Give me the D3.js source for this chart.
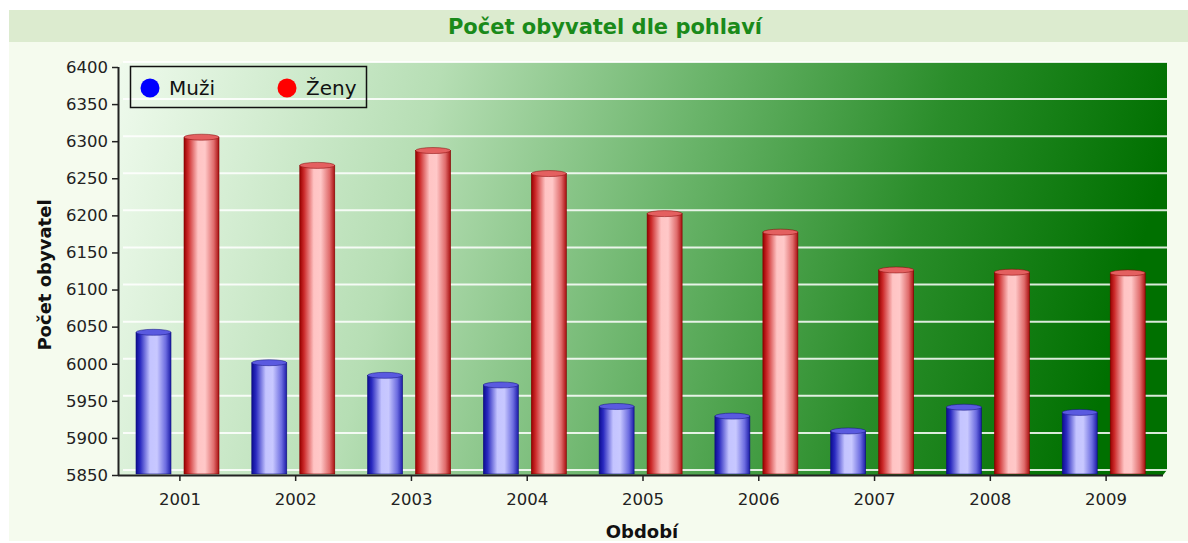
<!DOCTYPE html>
<html><head><meta charset="utf-8">
<script src="https://cdn.jsdelivr.net/npm/d3@7"></script>
<style>body{margin:0;background:#fff}svg{display:block}</style>
</head><body>
<script>
const years = ["2001","2002","2003","2004","2005","2006","2007","2008","2009"];
const seriesNames = ["Muži","Ženy"];
const muzi = [6039, 5998, 5981, 5968, 5939, 5926, 5906, 5938, 5931];
const zeny = [6302, 6264, 6284, 6253, 6199, 6174, 6123, 6120, 6119];
const yTicks = [5850,5900,5950,6000,6050,6100,6150,6200,6250,6300,6350,6400];
const title = "Počet obyvatel dle pohlaví";
const yTitle = "Počet obyvatel";
const xTitle = "Období";

const W = 1188, H = 543;
const FONT = "'DejaVu Sans', Verdana, sans-serif";
const svg = d3.select("body").append("svg").attr("width", W).attr("height", H);
const defs = svg.append("defs");

// panel
svg.append("rect").attr("x",9).attr("y",10).attr("width",W-9).attr("height",531).attr("fill","#f5fbee");
svg.append("rect").attr("x",9).attr("y",10).attr("width",W-9).attr("height",32).attr("fill","#dcebcf");
svg.append("text").attr("x",605).attr("y",34).attr("text-anchor","middle")
  .attr("font-family",FONT).attr("font-weight","bold").attr("font-size",21).attr("fill","#1a8a1a").text(title);

const x0 = 118, yBase = 475, D = 5;
const x = d3.scaleBand().domain(years).range([122, 1164]);
const xs = d3.scaleBand().domain(seriesNames).range([14, 97]).paddingInner(13/48);
const y = d3.scaleLinear().domain([5850, 6400]).range([475, 67]);

// background gradient
const bg = defs.append("linearGradient").attr("id","bg").attr("gradientUnits","userSpaceOnUse")
  .attr("x1",123).attr("y1",62).attr("x2",1120).attr("y2",330);
[[0,"#eefaec"],[0.3,"#b6deb4"],[0.55,"#6ab46a"],[0.78,"#2a8d2a"],[1,"#007000"]].forEach(s=>
  bg.append("stop").attr("offset",s[0]).attr("stop-color",s[1]));
svg.append("path").attr("fill","url(#bg)")
  .attr("d",`M${x0+D},62 H1167 V${yBase-D} L1163,${yBase} H${x0} V67 L${x0+D},62 Z`);

// gridlines
svg.append("g").selectAll("line").data(yTicks).join("line")
  .attr("x1",x0+D).attr("x2",1167).attr("y1",d=>y(d)-D).attr("y2",d=>y(d)-D)
  .attr("stroke","rgba(255,255,255,0.85)").attr("stroke-width",2);

// cylinder gradients
function cyl(id, stops){
  const g = defs.append("linearGradient").attr("id",id).attr("x1",0).attr("x2",1).attr("y1",0).attr("y2",0);
  stops.forEach(s=>g.append("stop").attr("offset",s[0]).attr("stop-color",s[1]));
}
cyl("gb",[[0,"#0c0c90"],[0.12,"#2a2ac0"],[0.4,"#c4c4ff"],[0.6,"#c8c8ff"],[0.85,"#6c6ce0"],[1,"#1c1ca8"]]);
cyl("gr",[[0,"#980000"],[0.12,"#cc2a2a"],[0.4,"#ffc4c4"],[0.6,"#ffc8c8"],[0.85,"#e06c6c"],[1,"#a81010"]]);

const data = [];
years.forEach((yr,i)=>{
  data.push({yr, s:"Muži", v:muzi[i], fill:"url(#gb)", top:"#5a5ae0", stroke:"#10107a"});
  data.push({yr, s:"Ženy", v:zeny[i], fill:"url(#gr)", top:"#e46060", stroke:"#800000"});
});
const bw = xs.bandwidth();
const bars = svg.append("g").selectAll("g").data(data).join("g");
bars.append("rect")
  .attr("x",d=>x(d.yr)+xs(d.s)).attr("width",bw)
  .attr("y",d=>y(d.v)-D/2).attr("height",d=>y(5850)-1-(y(d.v)-D/2))
  .attr("fill",d=>d.fill).attr("stroke",d=>d.stroke).attr("stroke-width",0.6);
bars.append("ellipse")
  .attr("cx",d=>x(d.yr)+xs(d.s)+bw/2).attr("cy",d=>y(d.v)-D/2).attr("rx",bw/2).attr("ry",3)
  .attr("fill",d=>d.top).attr("stroke",d=>d.stroke).attr("stroke-width",0.5);

// axes
const yAxis = svg.append("g").attr("transform",`translate(${x0},0)`)
  .call(d3.axisLeft(y).tickValues(yTicks).tickSize(6).tickPadding(4).tickFormat(d3.format("d")));
const xAxis = svg.append("g").attr("transform",`translate(0,${yBase})`)
  .call(d3.axisBottom(x).tickSize(6).tickPadding(12));
[yAxis,xAxis].forEach(a=>{
  a.select(".domain").attr("stroke","#222").attr("stroke-width",2);
  a.selectAll(".tick line").attr("stroke","#222").attr("stroke-width",1.5);
  a.selectAll("text").attr("font-family",FONT).attr("font-size",16.5).attr("fill","#222");
});
xAxis.select(".domain").attr("d",`M${x0},0.5H1163`);
yAxis.select(".domain").attr("d",`M0.5,${y(6400)}V${yBase}`);

svg.append("text").attr("transform","translate(51,275) rotate(-90)").attr("text-anchor","middle")
  .attr("font-family",FONT).attr("font-weight","bold").attr("font-size",18).attr("fill","#111").text(yTitle);
svg.append("text").attr("x",642).attr("y",538).attr("text-anchor","middle")
  .attr("font-family",FONT).attr("font-weight","bold").attr("font-size",18).attr("fill","#111").text(xTitle);

// legend
const lg = svg.append("g");
lg.append("rect").attr("x",130.5).attr("y",66.5).attr("width",236).attr("height",41)
  .attr("fill","none").attr("stroke","#111").attr("stroke-width",1.5);
const legCols = ["#0000ff","#ff0000"];
seriesNames.forEach((n,i)=>{
  const lx = 150 + i*137;
  lg.append("circle").attr("cx",lx).attr("cy",88).attr("r",9.5).attr("fill",legCols[i]);
  lg.append("text").attr("x",lx+19).attr("y",95).attr("font-family",FONT).attr("font-size",20).attr("fill","#111").text(n);
});
</script>
</body></html>
